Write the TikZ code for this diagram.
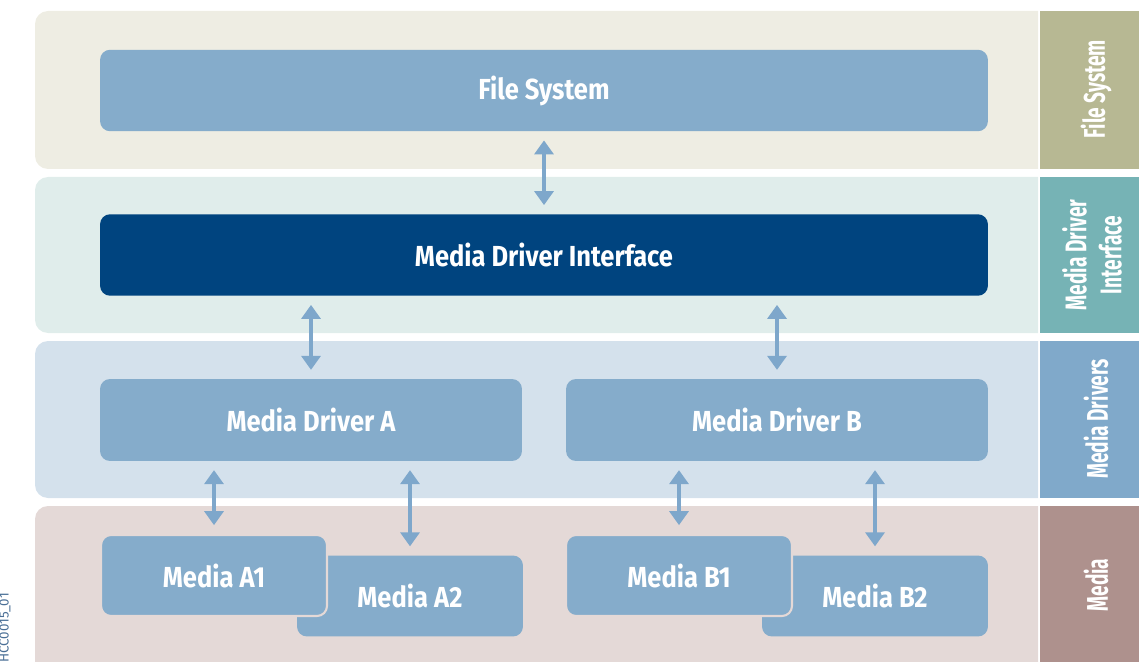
\documentclass[tikz,border=0pt]{standalone}
\usepackage{fontspec}
\setmainfont{Fira Sans}
\newfontfamily\boxfont[FakeStretch=0.88]{Fira Sans}
\newfontfamily\stripfont[FakeStretch=0.64]{Fira Sans}
\usetikzlibrary{arrows.meta}
\definecolor{fsband}{HTML}{EEEDE3}
\definecolor{fsstrip}{HTML}{B7B893}
\definecolor{mdiband}{HTML}{E0EDEB}
\definecolor{mdistrip}{HTML}{76B3B5}
\definecolor{drvband}{HTML}{D4E1EC}
\definecolor{drvstrip}{HTML}{80A9CA}
\definecolor{medband}{HTML}{E4D9D7}
\definecolor{medstrip}{HTML}{AE918D}
\definecolor{boxblue}{HTML}{85ACCB}
\definecolor{mdiblue}{HTML}{00447F}
\definecolor{arrowblue}{HTML}{7EA7CB}
\definecolor{codeblue}{HTML}{4A6F96}
\tikzstyle{layerbox}=[rectangle, rounded corners=0.2cm, fill=boxblue, text=white, inner sep=0pt, font=\boxfont\bfseries\fontsize{16.5}{19}\selectfont]
\tikzstyle{widebox}=[layerbox, minimum width=17.76cm, minimum height=1.63cm]
\tikzstyle{drvbox}=[layerbox, minimum width=8.44cm, minimum height=1.64cm]
\tikzstyle{mediabox}=[layerbox, minimum width=4.52cm, minimum height=1.62cm]
\tikzstyle{striplabel}=[rotate=90, text=white, align=center, inner sep=0pt, font=\stripfont\bfseries\fontsize{17}{20}\selectfont]
\tikzstyle{arrow}=[draw=arrowblue, line width=2.3pt, {Triangle[width=10.8pt,length=8pt]}-{Triangle[width=10.8pt,length=8pt]}, shorten <=5pt, shorten >=5pt]

\begin{document}
\begin{tikzpicture}[x=0.02cm, y=-0.02cm]
	\useasboundingbox (0,0) rectangle (1139,662);
	\clip (0,0) rectangle (1139,662);
	% layer bands
	\fill[fsband, rounded corners=0.26cm] (1038,11) -- (35,11) -- (35,169) -- (1038,169);
	\fill[mdiband, rounded corners=0.26cm] (1038,177) -- (35,177) -- (35,333) -- (1038,333);
	\fill[drvband, rounded corners=0.26cm] (1038,341) -- (35,341) -- (35,498) -- (1038,498);
	\fill[medband, rounded corners=0.26cm] (1038,506) -- (35,506) -- (35,690) -- (1038,690);
	% side strips
	\fill[fsstrip] (1040,11) rectangle (1139,169);
	\fill[mdistrip] (1040,177) rectangle (1139,333);
	\fill[drvstrip] (1040,341) rectangle (1139,498);
	\fill[medstrip] (1040,506) rectangle (1139,690);
	\node (fslbl) at (1096,89) [striplabel] {File System};
	\node (mdilbl) at (1092,255) [striplabel] {Media Driver\\Interface};
	\node (drvlbl) at (1096,419) [striplabel] {Media Drivers};
	\node (medlbl) at (1096,585) [striplabel] {Media};
	\node (code) at (5,628) [rotate=90, text=codeblue, inner sep=0pt, font=\fontsize{7.6}{8}\selectfont] {HCC0015\_01};
	% boxes
	\node (fs) at (544,90.5) [widebox] {File System};
	\node (mdi) at (544,255) [widebox, fill=mdiblue] {Media Driver Interface};
	\node (drvA) at (311,420) [drvbox] {Media Driver A};
	\node (drvB) at (777,420) [drvbox] {Media Driver B};
	\node (medA2) at (410,596) [mediabox] {Media A2};
	\node (medA1) at (214,575.5) [mediabox, draw=medband, line width=1.2pt] {Media A1};
	\node (medB2) at (875,596) [mediabox] {Media B2};
	\node (medB1) at (679,575.5) [mediabox, draw=medband, line width=1.2pt] {Media B1};
	% connections
	\draw[arrow] (fs.south) -- (mdi.north);
	\draw[arrow] (drvA.north) -- (drvA.north |- mdi.south);
	\draw[arrow] (drvB.north) -- (drvB.north |- mdi.south);
	\draw[arrow] (medA1.north) -- (medA1.north |- drvA.south);
	\draw[arrow] (medA2.north) -- (medA2.north |- drvA.south);
	\draw[arrow] (medB1.north) -- (medB1.north |- drvB.south);
	\draw[arrow] (medB2.north) -- (medB2.north |- drvB.south);
\end{tikzpicture}
\end{document}
